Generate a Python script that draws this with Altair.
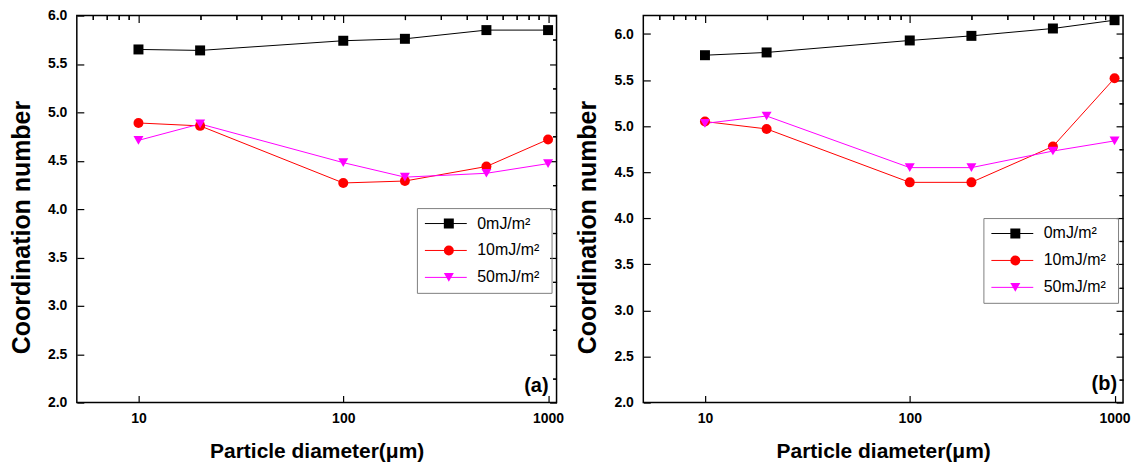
import altair as alt
import pandas as pd

# ---------------- data ----------------
diameters = [10, 20, 100, 200, 500, 1000]
series_names = ["0mJ/m²", "10mJ/m²", "50mJ/m²"]

a_0mJ = [5.65, 5.64, 5.74, 5.76, 5.85, 5.85]
a_10mJ = [4.89, 4.86, 4.27, 4.29, 4.44, 4.72]
a_50mJ = [4.71, 4.88, 4.48, 4.33, 4.37, 4.47]

b_0mJ = [5.77, 5.80, 5.93, 5.98, 6.06, 6.15]
b_10mJ = [5.05, 4.97, 4.39, 4.39, 4.78, 5.52]
b_50mJ = [5.03, 5.11, 4.55, 4.55, 4.73, 4.84]

panel_tags = ["(a)", "(b)"]

x_major = [10, 100, 1000]
x_minor = [6, 7, 8, 9, 20, 30, 40, 50, 60, 70, 80, 90,
           200, 300, 400, 500, 600, 700, 800, 900]
y_major = [2.0, 2.5, 3.0, 3.5, 4.0, 4.5, 5.0, 5.5, 6.0]
y_minor = [2.25, 2.75, 3.25, 3.75, 4.25, 4.75, 5.25, 5.75]

colors = ["#000000", "#FF0000", "#FF00FF"]
shapes = ["square", "circle", "triangle-down"]

FONT = "Liberation Sans"


def make_df(series_values):
    rows = []
    for name, vals in zip(series_names, series_values):
        for d, v in zip(diameters, vals):
            rows.append({"d": d, "v": v, "s": name})
    return pd.DataFrame(rows)


def panel(df, ydom, tag, legx, legy, tagx, tagy):
    xs = alt.Scale(type="log", domain=[5, 1100], nice=False)
    ys = alt.Scale(domain=ydom, nice=False, zero=False)
    cscale = alt.Scale(domain=series_names, range=colors)
    sscale = alt.Scale(domain=series_names, range=shapes)
    common = dict(domain=False, grid=False, labelFlush=False, labelOverlap=False)

    base = alt.Chart(df)

    lines = base.mark_line(strokeWidth=1).encode(
        x=alt.X("d:Q", scale=xs, axis=alt.Axis(
            values=x_major, format="d", offset=-7, tickSize=7, labelPadding=9,
            title="Particle diameter(μm)", titleFontSize=21, titlePadding=15, **common)),
        y=alt.Y("v:Q", scale=ys, axis=alt.Axis(
            values=y_major, format=".1f", offset=-7, tickSize=7, labelPadding=10,
            title="Coordination number", titleFontSize=25, titlePadding=13,
            titleY=212, **common)),
        color=alt.Color("s:N", scale=cscale, sort=series_names, legend=alt.Legend(
            orient="none", legendX=legx, legendY=legy, title=None,
            symbolType="M-1,0H1", symbolSize=1764, symbolStrokeWidth=1,
            clipHeight=27, rowPadding=0, padding=2, symbolOffset=5.5, labelOffset=10,
            labelFont=FONT, labelFontSize=16, labelColor="black",
            fillColor="white")),
        order="d:Q",
    )

    # marker legend drawn over the line legend; it also carries the frame box
    pleg = alt.Legend(
        orient="none", legendX=legx, legendY=legy, title=None,
        symbolSize=100, symbolStrokeWidth=0, clipHeight=27, rowPadding=0,
        padding=2, symbolOffset=22, labelOffset=93,
        labelFont=FONT, labelFontSize=16, labelExpr="'\u00a0'",
        strokeColor="#808080")

    points = base.mark_point(filled=True, size=100, opacity=1).encode(
        x=alt.X("d:Q", scale=xs, axis=alt.Axis(
            values=x_minor, labels=False, offset=-4, tickSize=4, title=None, **common)),
        y=alt.Y("v:Q", scale=ys, axis=alt.Axis(
            values=y_minor, labels=False, offset=-4, tickSize=4, title=None, **common)),
        color=alt.Color("s:N", scale=cscale, sort=series_names, legend=pleg),
        shape=alt.Shape("s:N", scale=sscale, sort=series_names, legend=pleg),
    )

    mirror_major = base.mark_point(opacity=0).encode(
        x=alt.X("d:Q", scale=xs, axis=alt.Axis(
            orient="top", values=x_major, labels=False, offset=-7, tickSize=7,
            title=None, **common)),
        y=alt.Y("v:Q", scale=ys, axis=alt.Axis(
            orient="right", values=y_major, labels=False, offset=-7, tickSize=7,
            title=None, **common)),
    )

    mirror_minor = base.mark_point(opacity=0).encode(
        x=alt.X("d:Q", scale=xs, axis=alt.Axis(
            orient="top", values=x_minor, labels=False, offset=-4, tickSize=4,
            title=None, **common)),
        y=alt.Y("v:Q", scale=ys, axis=alt.Axis(
            orient="right", values=y_minor, labels=False, offset=-4, tickSize=4,
            title=None, **common)),
    )

    tag_text = alt.Chart(pd.DataFrame({"t": [tag]})).mark_text(
        font=FONT, fontSize=20, fontWeight="bold", align="right",
        baseline="alphabetic", color="black").encode(
        text="t:N", x=alt.value(tagx), y=alt.value(tagy))

    return alt.layer(lines, points, mirror_major, mirror_minor, tag_text).resolve_scale(
        color="independent", shape="independent").resolve_axis(
        x="independent", y="independent").properties(width=481, height=388)


left = panel(make_df([a_0mJ, a_10mJ, a_50mJ]), [2.0, 6.0], panel_tags[0], 341, 193, 473, 377)
right = panel(make_df([b_0mJ, b_10mJ, b_50mJ]), [2.0, 6.2], panel_tags[1], 341, 203, 475, 375)

chart = alt.hconcat(left, right, spacing=87, bounds="flush").resolve_scale(
    color="independent", shape="independent").properties(
    padding={"left": 0, "top": -1, "right": 5, "bottom": 5},
    background="white",
).configure_view(
    stroke="black", strokeWidth=1.5
).configure_axis(
    labelFont=FONT, labelFontWeight="bold", labelFontSize=14, labelColor="black",
    titleFont=FONT, titleFontWeight="bold", titleColor="black",
    tickColor="black", tickWidth=1.2
)

chart.save("out.html", embed_options={"renderer": "svg", "actions": False})
